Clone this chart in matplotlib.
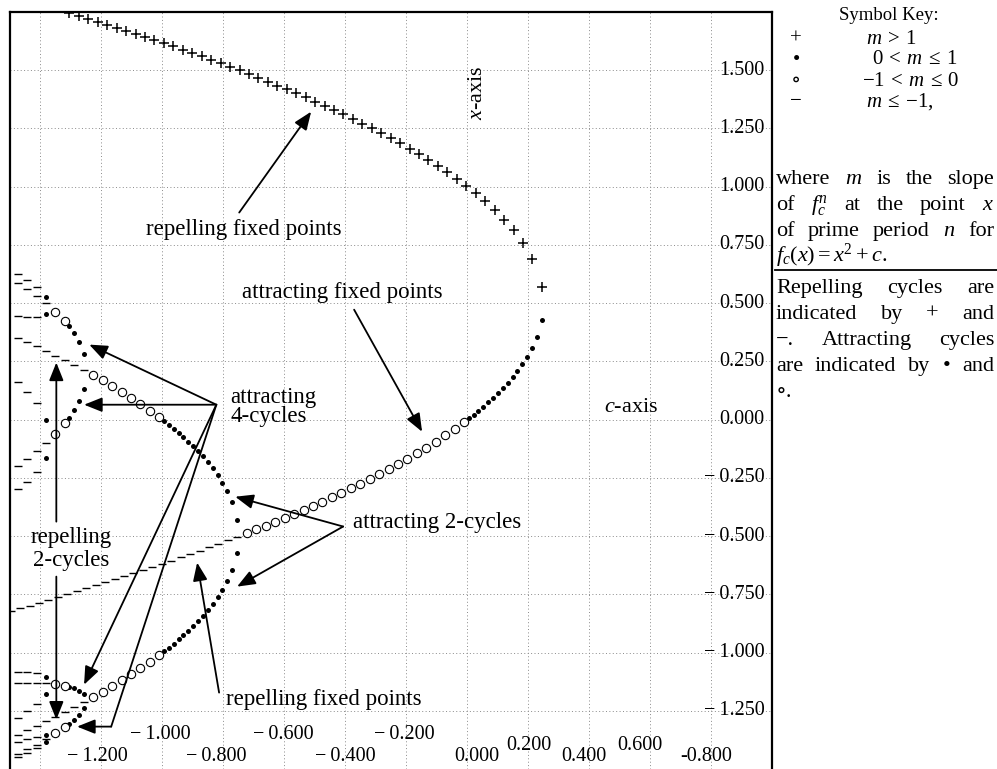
import matplotlib
matplotlib.use('Agg')
import matplotlib.pyplot as plt

plt.rcParams['font.family'] = ['Liberation Serif', 'DejaVu Serif']
plt.rcParams['mathtext.fontset'] = 'custom'
plt.rcParams['mathtext.rm'] = 'Liberation Serif'
plt.rcParams['mathtext.it'] = 'Liberation Serif:italic'
plt.rcParams['mathtext.bf'] = 'Liberation Serif:bold'

# ---------------- data (c, x) ----------------
plus_c = [0.245, 0.214, 0.183, 0.152, 0.121, 0.090, 0.059, 0.028, -0.003, -0.034,
          -0.065, -0.096, -0.127, -0.158, -0.189, -0.220, -0.251, -0.282, -0.313, -0.344,
          -0.375, -0.406, -0.437, -0.468, -0.499, -0.530, -0.561, -0.592, -0.623, -0.654,
          -0.685, -0.716, -0.747, -0.778, -0.809, -0.840, -0.871, -0.902, -0.933, -0.964,
          -0.995, -1.026, -1.057, -1.088, -1.119, -1.150, -1.181, -1.212, -1.243, -1.274, -1.305]
plus_x = [0.571, 0.690, 0.759, 0.813, 0.859, 0.900, 0.937, 0.971, 1.003, 1.033,
          1.061, 1.088, 1.114, 1.139, 1.163, 1.186, 1.208, 1.229, 1.250, 1.271,
          1.291, 1.310, 1.329, 1.347, 1.365, 1.383, 1.401, 1.418, 1.434, 1.451,
          1.467, 1.483, 1.499, 1.514, 1.529, 1.544, 1.559, 1.573, 1.588, 1.602,
          1.616, 1.630, 1.643, 1.657, 1.670, 1.683, 1.696, 1.709, 1.722, 1.734, 1.747]

fix_dot_c = [0.245, 0.229, 0.213, 0.197, 0.181, 0.165, 0.149, 0.133, 0.117, 0.101,
             0.085, 0.069, 0.053, 0.037, 0.021, 0.005]
fix_dot_x = [0.429, 0.355, 0.308, 0.270, 0.237, 0.208, 0.182, 0.158, 0.135, 0.114,
             0.094, 0.075, 0.056, 0.039, 0.021, 0.005]

fix_circ_c = [-0.010, -0.041, -0.072, -0.103, -0.134, -0.165, -0.196, -0.227, -0.258, -0.289,
              -0.320, -0.351, -0.382, -0.413, -0.444, -0.475, -0.506, -0.537, -0.568, -0.599,
              -0.630, -0.661, -0.692, -0.723]
fix_circ_x = [-0.010, -0.039, -0.068, -0.094, -0.120, -0.144, -0.168, -0.191, -0.213, -0.234,
              -0.255, -0.275, -0.295, -0.314, -0.333, -0.352, -0.370, -0.387, -0.404, -0.421,
              -0.438, -0.455, -0.471, -0.486]

fix_dash_c = [-0.754, -0.785, -0.816, -0.847, -0.878, -0.909, -0.940, -0.971, -1.002, -1.033,
              -1.064, -1.095, -1.126, -1.157, -1.188, -1.219, -1.250, -1.281, -1.312, -1.343,
              -1.374, -1.405, -1.436, -1.467, -1.498]
fix_dash_x = [-0.502, -0.517, -0.533, -0.547, -0.562, -0.577, -0.591, -0.605, -0.619, -0.633,
              -0.646, -0.660, -0.673, -0.686, -0.699, -0.712, -0.725, -0.737, -0.750, -0.762,
              -0.774, -0.787, -0.799, -0.810, -0.822]

cyc2_dot_c = [-0.755, -0.771, -0.787, -0.803, -0.819, -0.835, -0.851, -0.867, -0.883, -0.899,
              -0.915, -0.931, -0.947, -0.963, -0.979, -0.995]
cyc2_dot_hi = [-0.429, -0.355, -0.308, -0.270, -0.237, -0.209, -0.182, -0.158, -0.135, -0.114,
               -0.094, -0.075, -0.056, -0.039, -0.022, -0.005]
cyc2_dot_lo = [-0.571, -0.645, -0.692, -0.730, -0.763, -0.792, -0.818, -0.842, -0.865, -0.886,
               -0.906, -0.925, -0.944, -0.962, -0.979, -0.995]

cyc2_circ_c = [-1.010, -1.041, -1.072, -1.103, -1.134, -1.165, -1.196, -1.227]
cyc2_circ_hi = [0.010, 0.039, 0.068, 0.094, 0.120, 0.144, 0.168, 0.191]
cyc2_circ_lo = [-1.010, -1.039, -1.068, -1.094, -1.120, -1.144, -1.168, -1.191]

cyc2_dash_c = [-1.258, -1.289, -1.320, -1.351, -1.382, -1.413, -1.444, -1.475]
cyc2_dash_hi = [0.213, 0.234, 0.255, 0.275, 0.295, 0.314, 0.333, 0.352]
cyc2_dash_lo = [-1.213, -1.234, -1.255, -1.275, -1.295, -1.314, -1.333, -1.352]

cyc4_dot_c = [-1.258, -1.274, -1.290, -1.306]
cyc4_dot_x = [[0.281, -1.179, 0.133, -1.240],
              [0.334, -1.163, 0.078, -1.268],
              [0.370, -1.153, 0.040, -1.288],
              [0.400, -1.146, 0.008, -1.306]]
cyc4_circ_c = [-1.320, -1.351]
cyc4_circ_x = [[0.422, -1.142, -0.016, -1.320],
               [0.464, -1.136, -0.061, -1.347]]
cyc4_dash_c = [-1.382, -1.413, -1.444, -1.475]
cyc4_dash_x = [[0.500, -1.132, -0.101, -1.372],
               [0.532, -1.130, -0.136, -1.395],
               [0.561, -1.130, -0.168, -1.416],
               [0.587, -1.130, -0.198, -1.436]]

cyc8_dot_c = [-1.382]
cyc8_dot_x = [[0.000, -1.382, 0.528, -1.103, -0.165, -1.355, 0.454, -1.176]]
cyc8_dash_c = [-1.413, -1.444, -1.475]
cyc8_dash_x = [[0.072, -1.408, 0.569, -1.089, -0.227, -1.362, 0.441, -1.219],
               [0.120, -1.430, 0.600, -1.085, -0.268, -1.372, 0.440, -1.251],
               [0.161, -1.449, 0.625, -1.084, -0.300, -1.385, 0.443, -1.279]]

grid_c = [-1.4, -1.2, -1.0, -0.8, -0.6, -0.4, -0.2, 0.0, 0.2, 0.4, 0.6, 0.8]
grid_x = [-1.25, -1.0, -0.75, -0.5, -0.25, 0.0, 0.25, 0.5, 0.75, 1.0, 1.25, 1.5]
ytick_labels = ['\u2212\u20091.250', '\u2212\u20091.000', '\u2212\u20090.750',
                '\u2212\u20090.500', '\u2212\u20090.250',
                '0.000', '0.250', '0.500', '0.750', '1.000', '1.250', '1.500']
xtick_values = [-1.2, -1.0, -0.8, -0.6, -0.4, -0.2, 0.0, 0.2, 0.4, 0.6, 0.8]
xtick_labels = ['\u2212\u20091.200', '\u2212\u20091.000', '\u2212\u20090.800',
                '\u2212\u20090.600', '\u2212\u20090.400', '\u2212\u20090.200',
                '0.000', '0.200', '0.400', '0.600', '-0.800']

# ---------------- figure ----------------
W, H = 997, 769
fig = plt.figure(figsize=(W / 100, H / 100), dpi=100)
ax = fig.add_axes([10 / W, 0, 762 / W, 757 / H])
ax.set_xlim(-1.5, 1.0)
ax.set_ylim(-1.5, 1.75)
ax.set_xticks([])
ax.set_yticks([])
for s in ['left', 'right', 'top']:
    ax.spines[s].set_linewidth(1.6)
ax.spines['bottom'].set_visible(False)

for g in grid_c:
    ax.axvline(g, color='#8a8a8a', lw=0.7, ls=(0, (1, 2.5)), zorder=0)
for g in grid_x:
    ax.axhline(g, color='#8a8a8a', lw=0.7, ls=(0, (1, 2.5)), zorder=0)

K = 'black'
plus_kw = dict(ls='none', marker='+', ms=7, mew=1.1, color=K, zorder=3)
dot_kw = dict(ls='none', marker='o', ms=3.6, mew=0, color=K, zorder=3)
circ_kw = dict(ls='none', marker='o', ms=6.0, mew=0.8, mfc='white', mec=K, zorder=3)
dash_kw = dict(ls='none', marker='_', ms=6.0, mew=1.0, color=K, zorder=3)

ax.plot(plus_c, plus_x, **plus_kw)
ax.plot(fix_dot_c, fix_dot_x, **dot_kw)
ax.plot(fix_circ_c, fix_circ_x, **circ_kw)
ax.plot(fix_dash_c, fix_dash_x, **dash_kw)
for ys in (cyc2_dot_hi, cyc2_dot_lo):
    ax.plot(cyc2_dot_c, ys, **dot_kw)
for ys in (cyc2_circ_hi, cyc2_circ_lo):
    ax.plot(cyc2_circ_c, ys, **circ_kw)
for ys in (cyc2_dash_hi, cyc2_dash_lo):
    ax.plot(cyc2_dash_c, ys, **dash_kw)
for cs, xs, kw in ((cyc4_dot_c, cyc4_dot_x, dot_kw), (cyc4_circ_c, cyc4_circ_x, circ_kw),
                   (cyc4_dash_c, cyc4_dash_x, dash_kw), (cyc8_dot_c, cyc8_dot_x, dot_kw),
                   (cyc8_dash_c, cyc8_dash_x, dash_kw)):
    for cv, pts in zip(cs, xs):
        ax.plot([cv] * len(pts), pts, **kw)

# tick labels (inside the frame)
TF = 14.5
for v, lab in zip(grid_x, ytick_labels):
    ax.text(0.975, v, lab, ha='right', va='center', fontsize=TF)
xrow_y = [-1.447, -1.352, -1.447, -1.352, -1.447, -1.352, -1.447, -1.400, -1.447, -1.400, -1.447]
xoff = [-0.014, -0.007, -0.023, -0.004, 0.0, -0.007, 0.03, 0.003, -0.016, -0.032, -0.016]
for v, lab, yy, dx in zip(xtick_values, xtick_labels, xrow_y, xoff):
    ax.text(v + dx, yy, lab, ha='center', va='center', fontsize=TF)

ax.text(0.033, 1.404, '$x$-axis', rotation=90, ha='center', va='center', fontsize=16)
ax.text(0.449, 0.052, '$c$-axis', ha='left', va='center', fontsize=16)

# annotations
AF = 16.5
aprops = dict(arrowstyle='-|>,head_length=0.55,head_width=0.22', mutation_scale=20, lw=1.3,
              color=K, shrinkA=0, shrinkB=0)
lprops = dict(arrowstyle='-', lw=1.3, color=K, shrinkA=0, shrinkB=0)

def arrow(tail, head):
    ax.annotate('', xy=head, xytext=tail, arrowprops=aprops, zorder=5)

def seg(p0, p1):
    ax.annotate('', xy=p1, xytext=p0, arrowprops=lprops, zorder=5)

ax.text(-1.053, 0.816, 'repelling fixed points', ha='left', va='center', fontsize=AF)
arrow((-0.748, 0.889), (-0.512, 1.322))

ax.text(-0.738, 0.545, 'attracting fixed points', ha='left', va='center', fontsize=AF)
arrow((-0.371, 0.472), (-0.148, -0.052))

ax.text(-0.778, 0.054, 'attracting\n4-cycles', ha='left', va='center', fontsize=AF,
        linespacing=0.92)
o4 = (-0.823, 0.064)
arrow(o4, (-1.240, 0.322))
arrow(o4, (-1.257, 0.064))
arrow(o4, (-1.257, -1.138))
seg(o4, (-1.168, -1.318))
arrow((-1.168, -1.318), (-1.280, -1.318))

ax.text(-0.374, -0.442, 'attracting 2-cycles', ha='left', va='center', fontsize=AF)
arrow((-0.407, -0.459), (-0.761, -0.331))
arrow((-0.407, -0.459), (-0.755, -0.717))

ax.text(-1.299, -0.556, 'repelling\n2-cycles', ha='center', va='center', fontsize=AF,
        linespacing=1.1)
arrow((-1.348, -0.438), (-1.348, 0.245))
arrow((-1.348, -0.674), (-1.348, -1.288))

ax.text(-0.791, -1.202, 'repelling fixed points', ha='left', va='center', fontsize=AF)
arrow((-0.814, -1.172), (-0.886, -0.614))

# ---------------- symbol key (right panel) ----------------
HF = 13.5   # heading
KF = 15     # key rows
PF = 16     # paragraph

def fy(py):
    return 1 - py / H

def fx(px):
    return px / W

fig.text(fx(889), fy(16), 'Symbol Key:', ha='center', va='center', fontsize=HF)
key_sym = ['+', '\u2022', '\u2218', '\u2212']
key_txt = ['$m\\:>\\:1$', '$0\\:<\\:m\\:\\leq\\:1$', '$-1\\:<\\:m\\:\\leq\\:0$',
           '$m\\:\\leq\\:-1,$']
key_x = [866, 872, 862, 866]
key_y = [39, 60, 81, 102]
for s, t, kx, ky in zip(key_sym, key_txt, key_x, key_y):
    fig.text(fx(796), fy(ky), s, ha='center', va='center', fontsize=KF)
    fig.text(fx(kx), fy(ky), t, ha='left', va='center', fontsize=KF)

para1 = [['where', '$m$', 'is', 'the', 'slope'],
         ['of', '$f_c^n$', 'at', 'the', 'point', '$x$'],
         ['of', 'prime', 'period', '$n$', 'for']]
para2 = [['Repelling', 'cycles', 'are'],
         ['indicated', 'by', '+', 'and'],
         ['\u2212.', 'Attracting', 'cycles'],
         ['are', 'indicated', 'by', '\u2022', 'and']]
X0, X1 = 776, 994
p1_base = [184, 210, 236]
p2_base = [293, 319, 345, 371]

renderer = fig.canvas.get_renderer()

def justify(words, base):
    ts = [fig.text(0, fy(base), w, ha='left', va='baseline', fontsize=PF) for w in words]
    ws = [t.get_window_extent(renderer).width for t in ts]
    gap = (X1 - X0 - sum(ws)) / (len(ws) - 1)
    xx = X0
    for t, w in zip(ts, ws):
        t.set_x(fx(xx))
        xx += w + gap

for words, b in zip(para1, p1_base):
    justify(words, b)
fig.text(fx(X0), fy(262), '$f_c(x) = x^2 + c$.', ha='left', va='baseline', fontsize=PF)
fig.add_artist(plt.Line2D([fx(775), fx(997)], [fy(270), fy(270)], color=K, lw=1.3))
for words, b in zip(para2, p2_base):
    justify(words, b)
fig.text(fx(X0), fy(397), '\u2218.', ha='left', va='baseline', fontsize=PF)

fig.savefig('out.png', dpi=100)
